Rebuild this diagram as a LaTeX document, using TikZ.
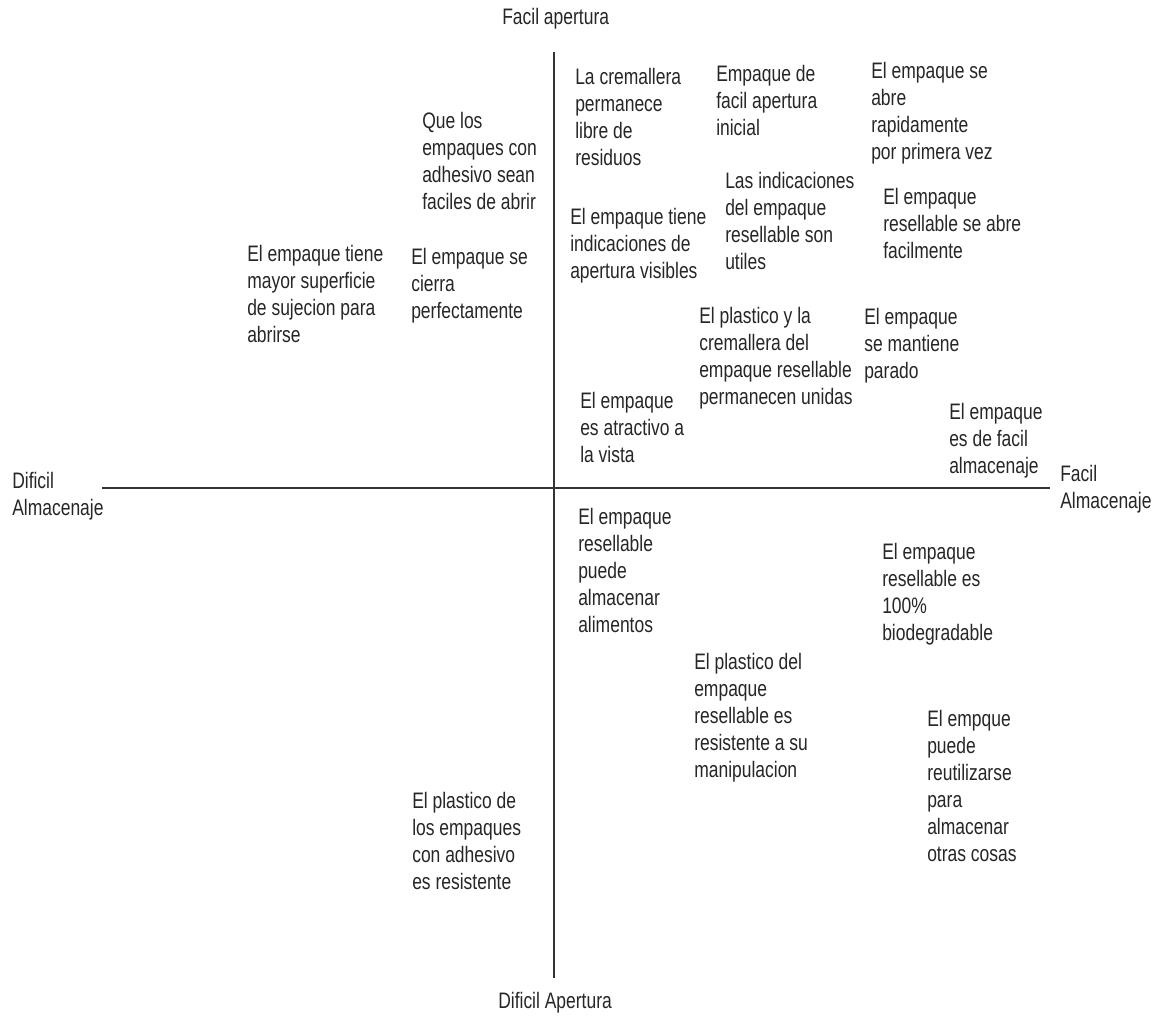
\documentclass[tikz,border=0pt]{standalone}
\usepackage{fontspec}
\setmainfont{Liberation Sans}[FakeStretch=0.78]
\begin{document}
\begin{tikzpicture}[x=0.75pt,y=-0.75pt,
  lbl/.style={anchor=north west,inner sep=0pt,align=left,text=black!85,
    font=\fontsize{16.8}{20.25}\selectfont},
  axis/.style={line width=1.1pt,draw=black!80}]
\useasboundingbox (0,0) rectangle (1157,1016);
% axes
\coordinate (vtop) at (554,52);
\coordinate (vbot) at (554,978);
\coordinate (hleft) at (102,488);
\coordinate (hright) at (1050,488);
\draw[axis] (vtop) -- (vbot);
\draw[axis] (hleft) -- (hright);
% axis labels
\node[lbl] (fa) at (502,8) {Facil apertura};
\node[lbl] (da) at (498,992) {Dificil Apertura};
\node[lbl] (dal) at (12,472) {Dificil\\Almacenaje};
\node[lbl] (fal) at (1060,465) {Facil\\Almacenaje};
% upper left
\node[lbl] (q1) at (422,112) {Que los\\empaques con\\adhesivo sean\\faciles de abrir};
\node[lbl] (q2) at (247,245) {El empaque tiene\\mayor superficie\\de sujecion para\\abrirse};
\node[lbl] (q3) at (411,248) {El empaque se\\cierra\\perfectamente};
% upper right
\node[lbl] (r1) at (575,68) {La cremallera\\permanece\\libre de\\residuos};
\node[lbl] (r2) at (716,65) {Empaque de\\facil apertura\\inicial};
\node[lbl] (r3) at (871,62) {El empaque se\\abre\\rapidamente\\por primera vez};
\node[lbl] (r4) at (725,172) {Las indicaciones\\del empaque\\resellable son\\utiles};
\node[lbl] (r5) at (883,188) {El empaque\\resellable se abre\\facilmente};
\node[lbl] (r6) at (570,208) {El empaque tiene\\indicaciones de\\apertura visibles};
\node[lbl] (r7) at (699,307) {El plastico y la\\cremallera del\\empaque resellable\\permanecen unidas};
\node[lbl] (r8) at (864,308) {El empaque\\se mantiene\\parado};
\node[lbl] (r9) at (580,392) {El empaque\\es atractivo a\\la vista};
\node[lbl] (r10) at (949,403) {El empaque\\es de facil\\almacenaje};
% lower right
\node[lbl] (s1) at (578,508) {El empaque\\resellable\\puede\\almacenar\\alimentos};
\node[lbl] (s2) at (882,543) {El empaque\\resellable es\\100\%\\biodegradable};
\node[lbl] (s3) at (694,653) {El plastico del\\empaque\\resellable es\\resistente a su\\manipulacion};
\node[lbl] (s4) at (927,710) {El empque\\puede\\reutilizarse\\para\\almacenar\\otras cosas};
% lower left
\node[lbl] (t1) at (412,792) {El plastico de\\los empaques\\con adhesivo\\es resistente};
\end{tikzpicture}
\end{document}
